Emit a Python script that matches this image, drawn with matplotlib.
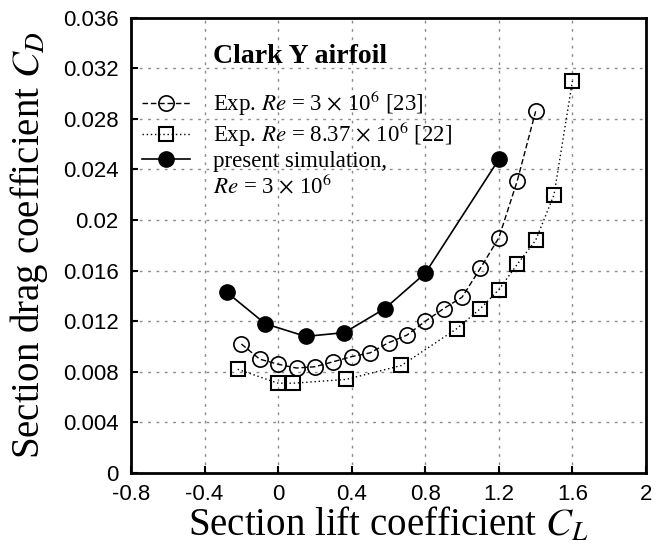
import numpy as np
import matplotlib
matplotlib.use("Agg")
import matplotlib.pyplot as plt
from matplotlib.lines import Line2D
from matplotlib.ticker import FuncFormatter

plt.rcParams['font.family'] = 'serif'
plt.rcParams['font.serif'] = ['Liberation Serif', 'DejaVu Serif']
plt.rcParams['mathtext.fontset'] = 'stix'
plt.rcParams['axes.unicode_minus'] = False

# Exp. Re = 3e6 [23]
cl_exp23 = [-0.2, -0.1, 0.0, 0.1, 0.2, 0.3, 0.4, 0.5, 0.6, 0.7, 0.8, 0.9, 1.0, 1.1, 1.2, 1.3, 1.4]
cd_exp23 = [0.0102, 0.0090, 0.0086, 0.0083, 0.0084, 0.0088, 0.0092, 0.0095, 0.0103, 0.0109,
            0.0120, 0.0130, 0.0139, 0.0162, 0.0186, 0.0231, 0.0286]

# Exp. Re = 8.37e6 [22]
cl_exp22 = [-0.22, 0.0, 0.08, 0.37, 0.67, 0.97, 1.1, 1.2, 1.3, 1.4, 1.5, 1.6]
cd_exp22 = [0.0082, 0.0071, 0.0071, 0.0074, 0.0085, 0.0114, 0.0130, 0.0145, 0.0165, 0.0184,
            0.0220, 0.0310]

# present simulation, Re = 3e6
cl_sim = [-0.28, -0.07, 0.15, 0.36, 0.58, 0.80, 1.20]
cd_sim = [0.0143, 0.0118, 0.0108, 0.0111, 0.0130, 0.0158, 0.0248]

xticks = [-0.8, -0.4, 0, 0.4, 0.8, 1.2, 1.6, 2]
yticks = [0, 0.004, 0.008, 0.012, 0.016, 0.02, 0.024, 0.028, 0.032, 0.036]

fig = plt.figure(figsize=(6.57, 5.49), dpi=100)
ax = fig.add_axes([131/657, 1-473/549, 515/657, 455.3/549])

ax.plot(cl_exp23, cd_exp23, color='k', lw=1, ls=(0, (4, 2)), marker='o', ms=11,
        mfc='none', mec='k', mew=1.2, label=r'Exp. $Re$ = 3 $\times$ 10$^6$ [23]')
ax.plot(cl_exp22, cd_exp22, color='k', lw=1, ls=(0, (1, 2)), marker='s', ms=10,
        mfc='none', mec='k', mew=1.5, label=r'Exp. $Re$ = 8.37 $\times$ 10$^6$ [22]')
ax.plot(cl_sim, cd_sim, color='k', lw=1.2, ls='-', marker='o', ms=11,
        mfc='k', mec='k', label='present simulation,')

ax.set_xlim(-0.8, 2)
ax.set_ylim(0, 0.036)
ax.set_xticks(xticks)
ax.set_yticks(yticks)
fmt = FuncFormatter(lambda v, p: '%g' % round(v, 4))
ax.xaxis.set_major_formatter(fmt)
ax.yaxis.set_major_formatter(fmt)
ax.tick_params(direction='in', length=5, width=1.5, labelsize=16, top=False, right=False)
ax.tick_params(axis='x', pad=8)
ax.tick_params(axis='y', pad=9)
for lab in ax.get_xticklabels() + ax.get_yticklabels():
    lab.set_fontfamily('Liberation Sans')
for s in ax.spines.values():
    s.set_linewidth(2)

ax.grid(True, color='0.55', ls=(0, (2, 4)), lw=1)
ax.set_axisbelow(True)

ax.set_xlabel(r'Section lift coefficient $C_L$', fontsize=28, labelpad=1)
ax.set_ylabel(r'Section drag coefficient $C_D$', fontsize=28, labelpad=9)

ax.text(0.159, 0.90, 'Clark Y airfoil', transform=ax.transAxes, fontsize=20,
        fontweight='bold', va='baseline', ha='left')

handles, labels = ax.get_legend_handles_labels()
handles.append(Line2D([], [], ls='none'))
labels.append(r'$Re$ = 3 $\times$ 10$^6$')
ax.legend(handles, labels, loc='upper left', bbox_to_anchor=(0.021, 0.845),
          frameon=False, fontsize=16.5, borderpad=0, borderaxespad=0,
          handlelength=2.1, handletextpad=1.0, labelspacing=0.08)

fig.savefig('out.png', dpi=100)
